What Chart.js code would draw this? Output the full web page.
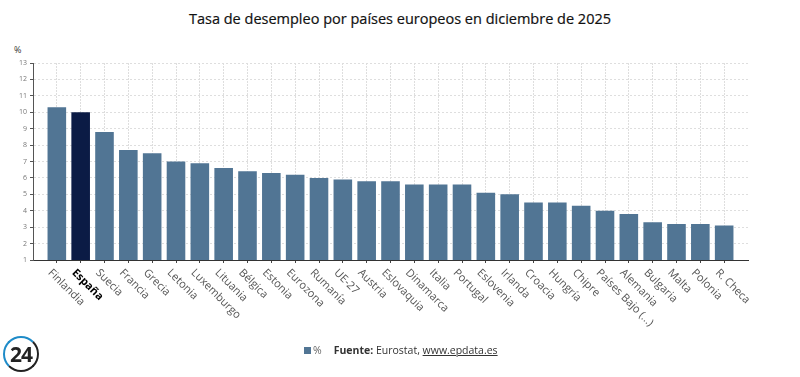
<!DOCTYPE html>
<html lang="es">
<head>
<meta charset="utf-8">
<title>Tasa de desempleo por países europeos</title>
<script src="https://cdn.jsdelivr.net/npm/chart.js@4/dist/chart.umd.min.js"></script>
<style>
    body { margin: 0; background: #fff; }
    #wrap { position: relative; width: 800px; height: 377px; font-family: "Open Sans", sans-serif; }
    #chart { position: absolute; left: 0; top: 0; }
    #title { position: absolute; left: 0; top: 9px; width: 800px; text-align: center; font-size: 14.5px; color: #111; -webkit-text-stroke: 0.2px #111; }
    #unit { position: absolute; left: 14px; top: 43px; font-size: 9px; color: #333; }
    #foot { position: absolute; left: 304px; top: 343px; font-size: 10.5px; color: #333; white-space: nowrap; }
    #foot .sw { display: inline-block; width: 7px; height: 7px; background: #517594; margin-right: 2px; }
    #foot .unit { color: #666; margin-right: 12px; }
    #logo { position: absolute; left: 3px; top: 336px; width: 32px; height: 32px; border-radius: 50%;
            border: 2px solid #222; border-left-color: #1e8bc8; border-top-color: #1e8bc8;
            font: bold 21px "Open Sans", sans-serif; line-height: 32px; text-align: center; color: #222; letter-spacing: -1px; }
</style>
</head>
<body>
<div id="wrap">
    <div id="title">Tasa de desempleo por países europeos en diciembre de 2025</div>
    <div id="unit">%</div>
    <canvas id="chart" width="800" height="377"></canvas>
    <div id="foot"><span class="sw"></span><span class="unit">%</span><b>Fuente:</b> Eurostat, <u>www.epdata.es</u></div>
    <div id="logo">24</div>
</div>
<script>
// Datos: paro por país, diciembre 2025 (%)
const countries = [
    'Finlandia', 'España', 'Suecia', 'Francia', 'Grecia', 'Letonia', 'Luxemburgo',
    'Lituania', 'Bélgica', 'Estonia', 'Eurozona', 'Rumanía', 'UE-27', 'Austria',
    'Eslovaquia', 'Dinamarca', 'Italia', 'Portugal', 'Eslovenia', 'Irlanda', 'Croacia',
    'Hungría', 'Chipre', 'Países Bajo (...)', 'Alemania', 'Bulgaria', 'Malta', 'Polonia', 'R. Checa'
];
const rates = [
    10.3, 10.0, 8.8, 7.7, 7.5, 7.0, 6.9,
    6.6, 6.4, 6.3, 6.2, 6.0, 5.9, 5.8,
    5.8, 5.6, 5.6, 5.6, 5.1, 5.0, 4.5,
    4.5, 4.3, 4.0, 3.8, 3.3, 3.2, 3.2, 3.1
];
const highlight = 'España';
const yMin = 1;
const yMax = 13;

const BAR = '#517594';
const BAR_HL = '#0b1b45';

// x labels go down-right from the tick, Chart.js can't do that alone
const xLabelPlugin = {
    id: 'xLabels',
    afterDraw(chart) {
        const ctx = chart.ctx;
        const xs = chart.scales.x;
        const base = chart.chartArea.bottom;
        countries.forEach((name, i) => {
            const px = xs.getPixelForValue(i);
            const hl = name === highlight;
            ctx.save();
            ctx.translate(px - 7, base + 11);
            ctx.rotate(Math.PI / 4);
            ctx.font = (hl ? 'bold ' : '') + '11px "Open Sans"';
            ctx.fillStyle = hl ? '#000' : '#555';
            ctx.textAlign = 'left';
            ctx.textBaseline = 'middle';
            ctx.fillText(name, 0, 0);
            ctx.restore();
        });
    }
};

new Chart(document.getElementById('chart'), {
    type: 'bar',
    data: {
        labels: countries,
        datasets: [{
            label: '%',
            data: rates,
            backgroundColor: ctx => countries[ctx.dataIndex] === highlight ? BAR_HL : BAR,
            barPercentage: 0.78,
            categoryPercentage: 1
        }]
    },
    options: {
        responsive: false,
        animation: false,
        layout: { padding: { top: 63, right: 52, bottom: 113, left: 0 } },
        plugins: {
            legend: { display: false },
            title: { display: false },
            tooltip: { enabled: false }
        },
        scales: {
            x: {
                offset: true,
                // extra half category of air on each side
                afterBuildTicks: s => { s._startValue -= 0.5; s._valueRange += 1; },
                afterFit: s => { s.height = 4; },
                grid: {
                    offset: false,
                    color: '#dedede',
                    tickColor: '#444',
                    tickLength: 3
                },
                border: { color: '#333', dash: [2, 1] },
                ticks: { display: false }
            },
            y: {
                min: yMin,
                max: yMax,
                afterFit: s => { s.width = 33; },
                ticks: {
                    stepSize: 1,
                    color: '#777',
                    font: { family: '"Open Sans"', size: 7 },
                    padding: 3
                },
                grid: {
                    color: '#dedede',
                    tickColor: '#555',
                    tickLength: 3
                },
                border: { color: '#555', dash: [2, 2] }
            }
        }
    },
    plugins: [xLabelPlugin]
});
</script>
</body>
</html>
